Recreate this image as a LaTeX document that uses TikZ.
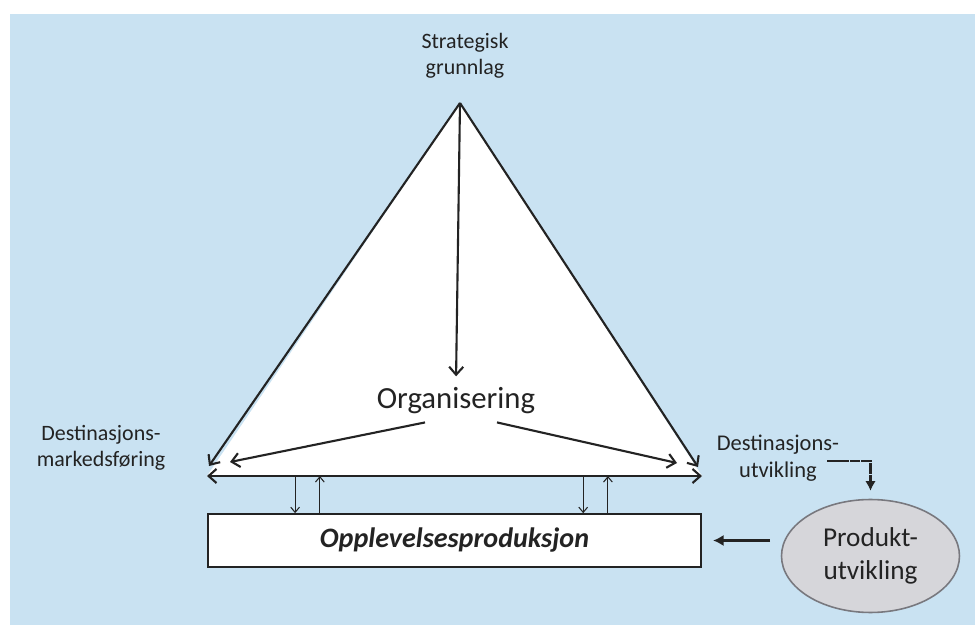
\documentclass[tikz,border=0pt]{standalone}
\usepackage{fontspec}
\setmainfont{Carlito}
\usepackage{tikz}
\usetikzlibrary{shapes, shapes.geometric, arrows, arrows.meta, positioning, calc}
\usepackage{xcolor}
\definecolor{pageBlue}{RGB}{201, 226, 242}
\definecolor{inkGray}{RGB}{35, 35, 35}
\definecolor{ovalGray}{RGB}{214, 214, 218}
\definecolor{ovalEdge}{RGB}{120, 120, 126}

\begin{document}
\begin{tikzpicture}[
        x=0.02cm, y=-0.02cm,
        sidetext/.style={align=center, text=inkGray, inner sep=0pt, font=\fontsize{12.5}{15}\selectfont},
        centretext/.style={text=inkGray, font=\fontsize{17.5}{21}\selectfont},
        prodbox/.style={rectangle, draw=inkGray, line width=0.9pt, fill=white, minimum width=9.86cm, minimum height=1.06cm, font=\fontsize{16}{19}\selectfont\bfseries\itshape, text=inkGray},
        oval/.style={ellipse, draw=ovalEdge, line width=0.9pt, fill=ovalGray, minimum width=3.56cm, minimum height=2.26cm, align=center, text=inkGray, font=\fontsize{15.5}{19}\selectfont},
        edgearrow/.style={-{Straight Barb[length=4.5pt, width=8pt]}, line width=1.2pt, inkGray},
        thinarrow/.style={-{Straight Barb[length=3pt, width=5pt]}, line width=0.6pt, inkGray},
        bigarrow/.style={-{Latex[length=6pt, width=6.5pt]}, line width=1.8pt, inkGray},
        devline/.style={-{Latex[length=5.5pt, width=6pt]}, line width=1.6pt, inkGray, dash pattern=on 6pt off 0.5pt}
    ]
        \useasboundingbox (0,0) rectangle (975,632);
        \fill[white] (0,0) rectangle (975,632);
        \fill[pageBlue] (10,14) rectangle (975,625);

        \coordinate (apex) at (460,103);
        \coordinate (lbase) at (207,476);
        \coordinate (rbase) at (702,476);
        \coordinate (lside) at (209,466);
        \coordinate (rside) at (698,467);
        \fill[white] (apex) -- (lbase) -- (rbase) -- cycle;

        \node[sidetext] (sg) at (465,56) {Strategisk\\grunnlag};
        \node[centretext] (org) at (456,401) {Organisering};
        \node[sidetext] (dmf) at (101,448) {Destinasjons-\\markedsføring};
        \node[sidetext, font=\fontsize{12.8}{15}\selectfont] (du) at (778,458) {Destinasjons-\\utvikling};
        \node[prodbox] (opl) at (454.5,540.5) {Opplevelsesproduksjon};
        \node[oval, right=1.58cm of opl, yshift=-0.31cm] (pu) {Produkt-\\utvikling};

        \coordinate (orgL) at ($(org.south)+(-31,2)$);
        \coordinate (orgR) at ($(org.south)+(41,2)$);
        \coordinate (mfTip) at (230,462);
        \coordinate (utTip) at (677,463);
        \coordinate (duEnd) at (827,461);

        \draw[edgearrow] (apex) -- (lside);
        \draw[edgearrow] (apex) -- (rside);
        \draw[edgearrow, {Straight Barb[length=4.5pt, width=8pt]}-{Straight Barb[length=4.5pt, width=8pt]}] (lbase) -- (rbase);
        \draw[edgearrow, shorten >=3pt] (apex) -- (org.north);
        \draw[edgearrow] (orgL) -- (mfTip);
        \draw[edgearrow] (orgR) -- (utTip);

        \path (lbase) -- (rbase) coordinate[pos=0.178] (d1) coordinate[pos=0.228] (u1)
            coordinate[pos=0.760] (d2) coordinate[pos=0.810] (u2);
        \foreach \n in {1,2} {
            \draw[thinarrow] (d\n) -- (d\n |- opl.north);
            \draw[thinarrow] (u\n |- opl.north) -- (u\n);
        }

        \draw[bigarrow, shorten <=6pt, shorten >=6.5pt] (opl.east -| pu.west) -- (opl.east);
        \draw[devline, shorten >=4.5pt] (duEnd) -| (pu.north);
    \end{tikzpicture}
\end{document}
